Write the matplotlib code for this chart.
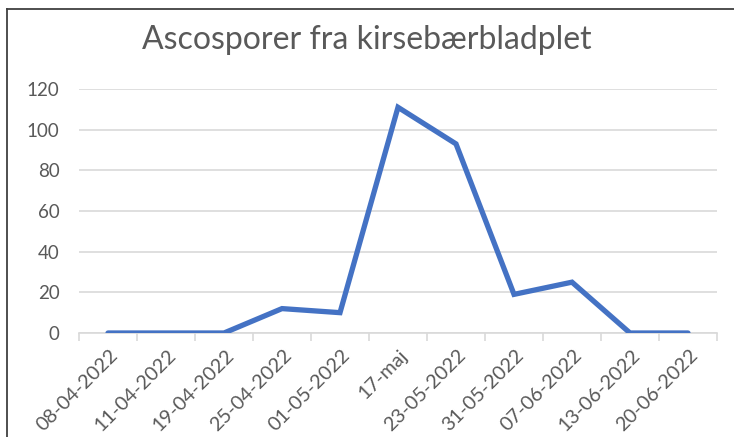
import matplotlib
matplotlib.use("Agg")
import matplotlib.pyplot as plt
from matplotlib.lines import Line2D

categories = ["08-04-2022", "11-04-2022", "19-04-2022", "25-04-2022", "01-05-2022",
              "17-maj", "23-05-2022", "31-05-2022", "07-06-2022", "13-06-2022", "20-06-2022"]
values = [0, 0, 0, 12, 10, 111, 93, 19, 25, 0, 0]
yticks = [0, 20, 40, 60, 80, 100, 120]
title = "Ascosporer fra kirsebærbladplet"

plt.rcParams['font.family'] = ['Lato', 'DejaVu Sans']

W, H = 734, 437
fig = plt.figure(figsize=(W / 100, H / 100), dpi=100)
ax = fig.add_axes([79 / W, 1 - 333 / H, (717 - 79) / W, (333 - 89) / H])

x = list(range(len(categories)))
ax.plot(x, values, color="#4472C4", lw=3.8, solid_joinstyle="miter", solid_capstyle="round", zorder=3)

ax.set_xlim(-0.5, len(categories) - 0.5)
ax.set_ylim(0, 120)
ax.set_yticks(yticks)
ax.set_yticklabels([str(v) for v in yticks], fontsize=13.5, color="#595959")
ax.tick_params(axis="y", length=0, pad=14)
ax.yaxis.grid(True, color="#d9d9d9", lw=1.2)
ax.set_axisbelow(True)

ax.set_xticks(x)
ax.set_xticklabels([])
ax.tick_params(axis="x", length=0)
ax.set_xticks([i - 0.5 for i in range(len(categories) + 1)], minor=True)
ax.tick_params(axis="x", which="minor", length=6, color="#d9d9d9", width=1.2)

for i, lab in enumerate(categories):
    ax.annotate(lab, xy=(i, 0), xycoords=("data", "axes fraction"),
                xytext=(5, -14), textcoords="offset points",
                rotation=45, rotation_mode="anchor", ha="right", va="center",
                fontsize=14.3, color="#595959")

for s in ["top", "right", "left"]:
    ax.spines[s].set_visible(False)
ax.spines["bottom"].set_color("#d9d9d9")
ax.spines["bottom"].set_linewidth(1.2)

fig.text(0.5, 1 - 40 / H, title, ha="center", va="center", fontsize=23, color="#595959")

fig.add_artist(Line2D([7 / W, 1], [1 - 9 / H, 1 - 9 / H], transform=fig.transFigure, color="#404040", lw=1.3))
fig.add_artist(Line2D([7 / W, 7 / W], [0, 1 - 9 / H], transform=fig.transFigure, color="#404040", lw=1.3))

fig.savefig("out.png", dpi=100)
